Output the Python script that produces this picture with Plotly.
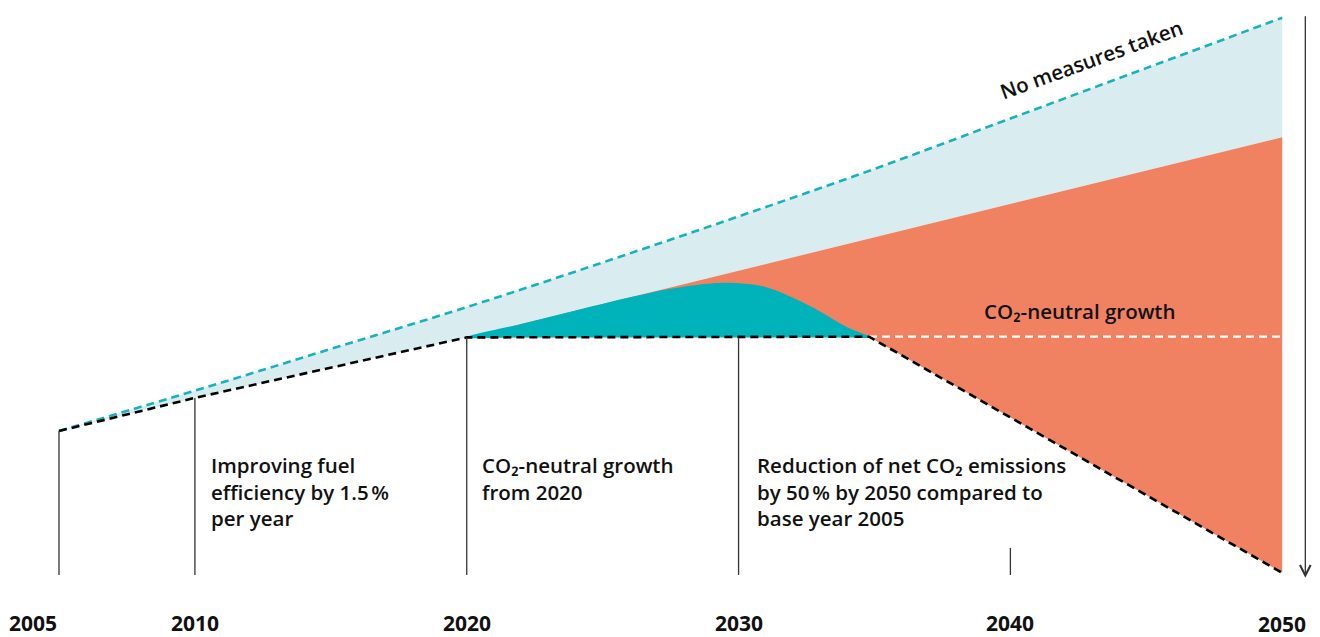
import plotly.graph_objects as go

# emissions index (2005 = 100)
years = [2005, 2010, 2015, 2020, 2025, 2030, 2035, 2040, 2045, 2050]
no_measures = [100, 128, 157, 186, 217, 249, 282, 317, 352, 387]

path_years = [2005, 2010, 2020, 2034.8, 2050]
path_values = [100, 123, 165, 165.5, 1.5]

growth_years = [2020, 2050]
growth_values = [165, 304]

neutral_years = [2020, 2022, 2024, 2026, 2027.5, 2029, 2030, 2031, 2032, 2033, 2034, 2034.8]
neutral_values = [165, 174.3, 183.6, 192.8, 198.8, 202.5, 202.6, 200, 192.5, 183, 172, 165.5]

tick_years = [2005, 2010, 2020, 2030, 2040, 2050]
marker_tops = [100, 123, 165, 165, 18.8]
marker_years = [2005, 2010, 2020, 2030, 2040]

LIGHT = "#d9edf0"
ORANGE = "#f08262"
TEAL = "#00b2b9"
FONT = "Open Sans"

fig = go.Figure()

# light blue band: no-measures line down to path / growth line
lb_x = years + [2050, 2020, 2010, 2005]
lb_y = no_measures + [growth_values[1], path_values[2], path_values[1], path_values[0]]
fig.add_trace(go.Scatter(x=lb_x, y=lb_y, fill="toself", fillcolor=LIGHT,
                         line=dict(width=0), mode="lines", hoverinfo="skip"))

# orange wedge
or_x = growth_years + [path_years[4], path_years[3], path_years[2]]
or_y = growth_values + [path_values[4], path_values[3], path_values[2]]
fig.add_trace(go.Scatter(x=or_x, y=or_y, fill="toself", fillcolor=ORANGE,
                         line=dict(width=0), mode="lines", hoverinfo="skip"))

# teal bump
fig.add_trace(go.Scatter(x=neutral_years + neutral_years[::-1],
                         y=neutral_values + [165] * len(neutral_years),
                         fill="toself", fillcolor=TEAL, line=dict(width=0, shape="spline"),
                         mode="lines", hoverinfo="skip"))

# no measures line
fig.add_trace(go.Scatter(x=years, y=no_measures, mode="lines",
                         line=dict(color="#16b3bc", width=2.6, dash="8px,5px", shape="spline"),
                         hoverinfo="skip"))

# white neutral line
fig.add_trace(go.Scatter(x=[path_years[3], 2050], y=[165.5, 165.5], mode="lines",
                         line=dict(color="white", width=2.2, dash="8px,5px"), hoverinfo="skip"))

# black path
fig.add_trace(go.Scatter(x=path_years, y=path_values, mode="lines",
                         line=dict(color="black", width=2.6, dash="8px,5px"), hoverinfo="skip"))

# vertical markers
for yr, top in zip(marker_years, marker_tops):
    fig.add_trace(go.Scatter(x=[yr, yr], y=[top, 0], mode="lines",
                             line=dict(color="#333333", width=1.3), hoverinfo="skip"))

# arrow
fig.add_annotation(x=2050.85, y=-2, ax=2050.85, ay=389, xref="x", yref="y",
                   axref="x", ayref="y", showarrow=True, arrowhead=5, arrowsize=1.6,
                   arrowwidth=1.3, arrowcolor="#333333", text="", standoff=0)

# year labels
for yr in tick_years:
    fig.add_annotation(x=yr, y=-33.5 if yr != 2050 else -34.3, text=f"<b>{yr}</b>",
                       showarrow=False, xanchor="right" if yr == 2005 else "center",
                       font=dict(family=FONT, size=21, color="#111111"))

notes = [
    (2010.52, "Improving fuel<br>efficiency by 1.5\u202f%<br>per year"),
    (2020.5, "CO₂-neutral growth<br>from 2020"),
    (2030.6, "Reduction of net CO₂ emissions<br>by 50\u202f% by 2050 compared to<br>base year 2005"),
]
for x, t in notes:
    fig.add_annotation(x=x, y=87.5, text=t, showarrow=False, xanchor="left",
                       yanchor="top", align="left",
                       font=dict(family=FONT, size=20.5, color="#111111", weight=600))

fig.add_annotation(x=2042.55, y=183.5, text="CO₂-neutral growth", showarrow=False,
                   font=dict(family=FONT, size=20.5, color="#111111", weight=600))
fig.add_annotation(x=2043.0, y=358, text="No measures taken", showarrow=False,
                   textangle=-20, font=dict(family=FONT, size=20.5, color="#111111", weight=600))

# page has an 8px body margin, so the figure is 8px smaller than the window
fig.update_xaxes(range=[2003.124, 2051.39], visible=False)
fig.update_yaxes(range=[-43.06, 393.75], visible=False)
fig.update_layout(width=1312, height=629, margin=dict(l=0, r=0, t=0, b=0),
                  plot_bgcolor="white", paper_bgcolor="white", showlegend=False)

fig.write_html("out.html")
